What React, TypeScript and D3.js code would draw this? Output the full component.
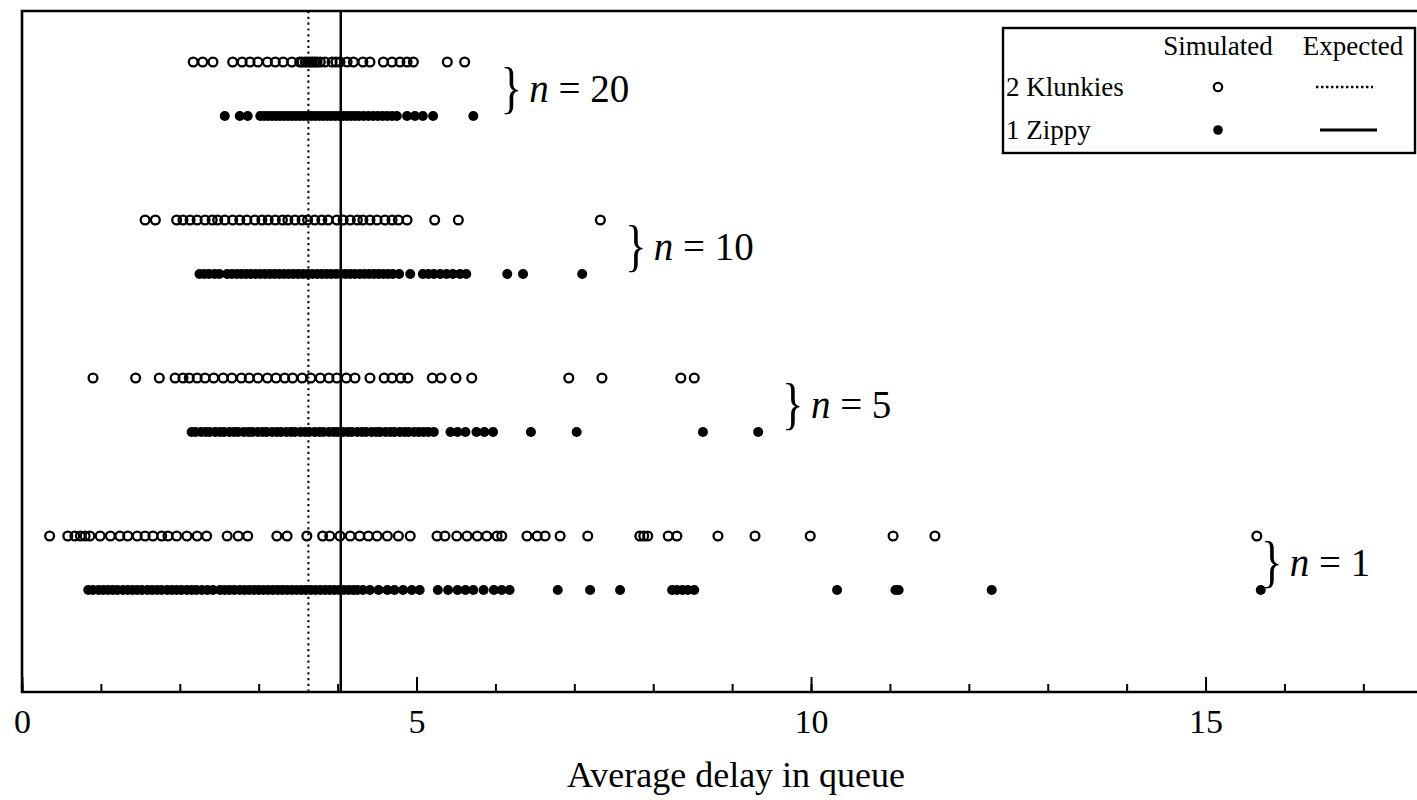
import * as d3 from "d3";
import { useEffect, useRef } from "react";

// sample sizes, top to bottom
const groups = ["20", "10", "5", "1"];

// 2 Klunkies (hollow) and 1 Zippy (filled) average delays
const klunkies20 = [2.17, 2.29, 2.42, 2.67, 2.79, 2.89, 2.99, 3.11, 3.21, 3.31, 3.42, 3.52, 3.55, 3.59, 3.62, 3.65, 3.68, 3.71, 3.74, 3.78, 3.84, 3.93, 3.98, 4.03, 4.12, 4.20, 4.32, 4.41, 4.58, 4.69, 4.79, 4.88, 4.96, 5.39, 5.61];
const zippy20 = [2.57, 2.76, 2.86, 3.02, 3.07, 3.12, 3.17, 3.22, 3.27, 3.32, 3.37, 3.42, 3.47, 3.52, 3.57, 3.62, 3.67, 3.72, 3.77, 3.82, 3.87, 3.92, 3.97, 4.02, 4.07, 4.12, 4.17, 4.22, 4.27, 4.33, 4.39, 4.45, 4.51, 4.57, 4.63, 4.69, 4.75, 4.88, 4.98, 5.08, 5.21, 5.72];

const klunkies10 = [1.56, 1.69, 1.96, 2.04, 2.13, 2.22, 2.32, 2.41, 2.48, 2.57, 2.67, 2.76, 2.85, 2.95, 3.04, 3.12, 3.21, 3.30, 3.37, 3.46, 3.55, 3.62, 3.71, 3.80, 3.88, 3.99, 4.07, 4.16, 4.25, 4.32, 4.41, 4.50, 4.60, 4.69, 4.77, 4.88, 5.23, 5.53, 7.33];
const zippy10 = [2.25, 2.31, 2.37, 2.44, 2.50, 2.60, 2.66, 2.72, 2.78, 2.84, 2.90, 2.96, 3.02, 3.08, 3.14, 3.20, 3.26, 3.32, 3.38, 3.44, 3.50, 3.56, 3.62, 3.68, 3.74, 3.80, 3.86, 3.92, 3.98, 4.04, 4.10, 4.16, 4.22, 4.28, 4.34, 4.40, 4.46, 4.52, 4.58, 4.64, 4.70, 4.78, 4.92, 5.08, 5.15, 5.22, 5.30, 5.38, 5.46, 5.55, 5.63, 6.15, 6.35, 7.10];

const klunkies5 = [0.90, 1.44, 1.74, 1.94, 2.04, 2.12, 2.22, 2.32, 2.43, 2.55, 2.66, 2.78, 2.88, 2.99, 3.11, 3.22, 3.33, 3.43, 3.55, 3.66, 3.78, 3.89, 3.99, 4.11, 4.22, 4.41, 4.59, 4.69, 4.80, 4.89, 5.20, 5.31, 5.50, 5.70, 6.93, 7.35, 8.35, 8.52];
const zippy5 = [2.15, 2.20, 2.27, 2.33, 2.38, 2.45, 2.51, 2.56, 2.63, 2.69, 2.74, 2.81, 2.87, 2.92, 2.99, 3.05, 3.10, 3.17, 3.23, 3.28, 3.35, 3.41, 3.46, 3.53, 3.59, 3.64, 3.71, 3.77, 3.82, 3.89, 3.95, 4.00, 4.07, 4.13, 4.18, 4.25, 4.31, 4.36, 4.43, 4.49, 4.54, 4.61, 4.67, 4.72, 4.79, 4.85, 4.90, 4.97, 5.03, 5.09, 5.15, 5.22, 5.43, 5.52, 5.62, 5.76, 5.86, 5.97, 6.45, 7.03, 8.63, 9.33];

const klunkies1 = [0.35, 0.58, 0.67, 0.74, 0.80, 0.86, 0.99, 1.12, 1.24, 1.34, 1.46, 1.56, 1.66, 1.77, 1.85, 1.96, 2.09, 2.22, 2.34, 2.60, 2.74, 2.86, 3.23, 3.36, 3.61, 3.81, 3.90, 4.03, 4.16, 4.28, 4.39, 4.50, 4.63, 4.77, 4.92, 5.26, 5.36, 5.51, 5.64, 5.77, 5.89, 6.02, 6.08, 6.40, 6.53, 6.63, 6.82, 7.17, 7.83, 7.88, 7.93, 8.19, 8.30, 8.82, 9.29, 9.99, 11.04, 11.57, 15.65];
const zippy1 = [0.84, 0.90, 0.97, 1.03, 1.09, 1.15, 1.21, 1.28, 1.34, 1.40, 1.46, 1.52, 1.59, 1.65, 1.71, 1.77, 1.84, 1.90, 1.96, 2.02, 2.09, 2.15, 2.21, 2.28, 2.35, 2.42, 2.51, 2.57, 2.63, 2.69, 2.76, 2.82, 2.88, 2.94, 3.00, 3.06, 3.12, 3.18, 3.24, 3.30, 3.36, 3.42, 3.48, 3.54, 3.60, 3.66, 3.72, 3.78, 3.84, 3.90, 3.96, 4.02, 4.08, 4.14, 4.20, 4.25, 4.32, 4.41, 4.52, 4.63, 4.72, 4.83, 4.94, 5.04, 5.27, 5.40, 5.52, 5.62, 5.72, 5.85, 5.98, 6.08, 6.18, 6.79, 7.20, 7.58, 8.24, 8.30, 8.37, 8.44, 8.52, 10.33, 11.07, 11.11, 12.29, 15.70];

// where each "} n = .." label sits (delay units)
const braceAt = [6.2, 7.78, 9.77, 15.84];

// expected delays
const expectedKlunkies = 3.63;
const expectedZippy = 4.04;

const minorTicks = [0, 1, 2, 3, 4, 5, 6, 7, 8, 9, 10, 11, 12, 13, 14, 15, 16, 17];
const majorTicks = [0, 5, 10, 15];

const legendRows = ["2 Klunkies", "1 Zippy"];
const legendCols = ["Simulated", "Expected"];

const FONT = "'Liberation Serif', 'DejaVu Serif', serif";

const redraw = (el: SVGSVGElement) => {
  const svg = d3.select(el);
  svg.selectAll("*").remove();

  const left = 22, top = 11, right = 1417, bottom = 692;
  const x = d3.scaleLinear().domain([0, 17.68]).range([left, right]);
  const y = d3.scalePoint<string>().domain(groups).range([89, 563]);
  const rowOff = 27;

  const rows = [
    { g: groups[0], k: klunkies20, z: zippy20 },
    { g: groups[1], k: klunkies10, z: zippy10 },
    { g: groups[2], k: klunkies5, z: zippy5 },
    { g: groups[3], k: klunkies1, z: zippy1 },
  ];

  // frame
  svg.append("path")
    .attr("d", `M${right},${top}H${left}V${bottom}H${right}`)
    .attr("fill", "none").attr("stroke", "#000").attr("stroke-width", 2.6);

  // expected lines
  svg.append("line")
    .attr("x1", x(expectedKlunkies)).attr("x2", x(expectedKlunkies))
    .attr("y1", top).attr("y2", bottom)
    .attr("stroke", "#000").attr("stroke-width", 2).attr("stroke-dasharray", "2.2,3.6");
  svg.append("line")
    .attr("x1", x(expectedZippy)).attr("x2", x(expectedZippy))
    .attr("y1", top).attr("y2", bottom)
    .attr("stroke", "#000").attr("stroke-width", 2.5);

  // dots
  rows.forEach((r, i) => {
    const cy = y(r.g)!;
    svg.append("g").selectAll("circle").data(r.k).join("circle")
      .attr("cx", d => x(d)).attr("cy", cy - rowOff).attr("r", 4.4)
      .attr("fill", "none").attr("stroke", "#000").attr("stroke-width", 2.3);
    svg.append("g").selectAll("circle").data(r.z).join("circle")
      .attr("cx", d => x(d)).attr("cy", cy + rowOff).attr("r", 5)
      .attr("fill", "#000");

    const bx = x(braceAt[i]);
    svg.append("text")
      .attr("x", bx).attr("y", cy + 18)
      .attr("text-anchor", "middle")
      .attr("font-family", FONT).attr("font-size", 56)
      .attr("transform", `translate(${bx},0) scale(0.8,1) translate(${-bx},0)`)
      .text("}");
    const t = svg.append("text")
      .attr("x", bx + 18).attr("y", cy + 13)
      .attr("font-family", FONT).attr("font-size", 39);
    t.append("tspan").attr("font-style", "italic").text("n");
    t.append("tspan").text(` = ${r.g}`);
  });

  // x axis
  const gMinor = svg.append("g").attr("transform", `translate(0,${bottom})`)
    .call(d3.axisBottom(x).tickValues(minorTicks).tickSize(-8).tickFormat(() => ""));
  gMinor.select(".domain").remove();
  gMinor.selectAll("line").attr("stroke-width", 2);

  const gMajor = svg.append("g").attr("transform", `translate(0,${bottom})`)
    .call(d3.axisBottom(x).tickValues(majorTicks).tickSize(-15).tickPadding(17).tickFormat(d3.format("d")));
  gMajor.select(".domain").remove();
  gMajor.selectAll("line").attr("stroke-width", 2);
  gMajor.selectAll("text")
    .attr("font-family", FONT).attr("font-size", 34).attr("fill", "#000");

  svg.append("text")
    .attr("x", 736).attr("y", 787)
    .attr("text-anchor", "middle")
    .attr("font-family", FONT).attr("font-size", 36)
    .text("Average delay in queue");

  // legend
  const lg = svg.append("g");
  lg.append("rect")
    .attr("x", 1003).attr("y", 28).attr("width", 412).attr("height", 125)
    .attr("fill", "#fff").attr("stroke", "#000").attr("stroke-width", 2.4);
  const colX = [1218, 1353];
  const rowY = [87, 130];
  legendCols.forEach((c, i) => {
    lg.append("text").attr("x", colX[i]).attr("y", 55)
      .attr("text-anchor", "middle")
      .attr("font-family", FONT).attr("font-size", 27).text(c);
  });
  legendRows.forEach((r, i) => {
    lg.append("text").attr("x", 1006).attr("y", rowY[i] + 9)
      .attr("font-family", FONT).attr("font-size", 27).text(r);
  });
  lg.append("circle").attr("cx", colX[0]).attr("cy", rowY[0]).attr("r", 4.2)
    .attr("fill", "none").attr("stroke", "#000").attr("stroke-width", 2.2);
  lg.append("circle").attr("cx", colX[0]).attr("cy", rowY[1]).attr("r", 4.8).attr("fill", "#000");
  lg.append("line").attr("x1", colX[1] - 37).attr("x2", colX[1] + 20)
    .attr("y1", rowY[0]).attr("y2", rowY[0])
    .attr("stroke", "#000").attr("stroke-width", 2.4).attr("stroke-dasharray", "2.4,2.6");
  lg.append("line").attr("x1", colX[1] - 33).attr("x2", colX[1] + 24)
    .attr("y1", rowY[1]).attr("y2", rowY[1])
    .attr("stroke", "#000").attr("stroke-width", 2.8);
};

export default function App() {
  const ref = useRef<SVGSVGElement>(null);

  useEffect(() => {
    document.body.style.margin = "0";
    if (ref.current) redraw(ref.current);
  }, []);

  return (
    <svg ref={ref} width={1417} height={800} style={{ display: "block", background: "#fff" }} />
  );
}
